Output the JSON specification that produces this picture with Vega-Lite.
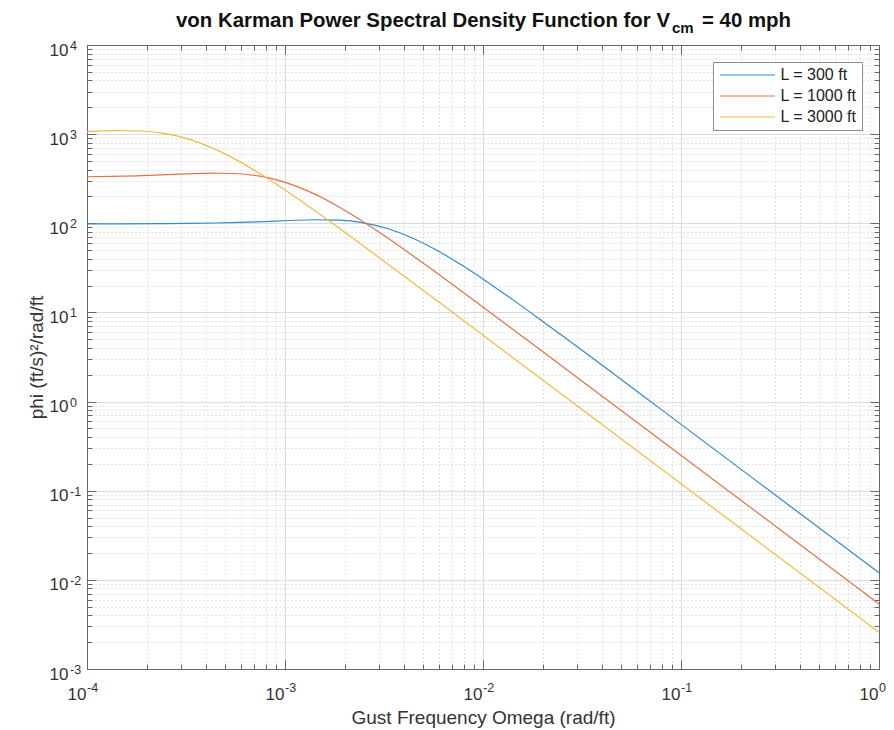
{
  "$schema": "https://vega.github.io/schema/vega-lite/v6.json",
  "width": 792,
  "height": 624,
  "autosize": {"type": "none"},
  "padding": {"left": 87, "top": 45, "right": 15, "bottom": 61},
  "background": "white",
  "config": {
    "view": {"stroke": null},
    "font": "Liberation Sans",
    "axis": {
      "labelFont": "Liberation Sans",
      "labelFontSize": 17,
      "labelColor": "#333333",
      "titleFont": "Liberation Sans",
      "titleFontSize": 19,
      "titleFontWeight": "normal",
      "titleColor": "#333333",
      "tickColor": "#666666",
      "tickWidth": 1,
      "domainColor": "#666666",
      "domainWidth": 1,
      "labelFlush": false,
      "labelOverlap": false
    }
  },
  "datasets": {
    "curves": [
      {"series": "L = 300 ft", "omega": 0.0001, "phi": 98.49},
      {"series": "L = 300 ft", "omega": 0.00014, "phi": 98.62},
      {"series": "L = 300 ft", "omega": 0.00024894, "phi": 99.15},
      {"series": "L = 300 ft", "omega": 0.00033197, "phi": 99.75},
      {"series": "L = 300 ft", "omega": 0.0004427, "phi": 100.73},
      {"series": "L = 300 ft", "omega": 0.00059034, "phi": 102.31},
      {"series": "L = 300 ft", "omega": 0.00078723, "phi": 104.61},
      {"series": "L = 300 ft", "omega": 0.0010498, "phi": 107.41},
      {"series": "L = 300 ft", "omega": 0.0013999, "phi": 109.56},
      {"series": "L = 300 ft", "omega": 0.0018669, "phi": 108.5},
      {"series": "L = 300 ft", "omega": 0.0024894, "phi": 101.2},
      {"series": "L = 300 ft", "omega": 0.0033197, "phi": 86.76},
      {"series": "L = 300 ft", "omega": 0.004427, "phi": 67.92},
      {"series": "L = 300 ft", "omega": 0.0059034, "phi": 49.15},
      {"series": "L = 300 ft", "omega": 0.0078723, "phi": 33.54},
      {"series": "L = 300 ft", "omega": 0.010498, "phi": 22.01},
      {"series": "L = 300 ft", "omega": 0.013999, "phi": 14.1},
      {"series": "L = 300 ft", "omega": 0.018669, "phi": 8.898},
      {"series": "L = 300 ft", "omega": 0.024894, "phi": 5.569},
      {"series": "L = 300 ft", "omega": 0.04427, "phi": 2.155},
      {"series": "L = 300 ft", "omega": 0.078723, "phi": 0.8282},
      {"series": "L = 300 ft", "omega": 0.24894, "phi": 0.1217},
      {"series": "L = 300 ft", "omega": 1, "phi": 0.012},
      {"series": "L = 1000 ft", "omega": 0.0001, "phi": 332.5},
      {"series": "L = 1000 ft", "omega": 0.0001328, "phi": 335.8},
      {"series": "L = 1000 ft", "omega": 0.00017709, "phi": 341.1},
      {"series": "L = 1000 ft", "omega": 0.00023616, "phi": 348.7},
      {"series": "L = 1000 ft", "omega": 0.00031492, "phi": 358.0},
      {"series": "L = 1000 ft", "omega": 0.00041995, "phi": 365.2},
      {"series": "L = 1000 ft", "omega": 0.00056002, "phi": 361.7},
      {"series": "L = 1000 ft", "omega": 0.00074683, "phi": 337.4},
      {"series": "L = 1000 ft", "omega": 0.00099586, "phi": 289.2},
      {"series": "L = 1000 ft", "omega": 0.001328, "phi": 226.4},
      {"series": "L = 1000 ft", "omega": 0.0017709, "phi": 163.8},
      {"series": "L = 1000 ft", "omega": 0.0023616, "phi": 111.8},
      {"series": "L = 1000 ft", "omega": 0.0031492, "phi": 73.37},
      {"series": "L = 1000 ft", "omega": 0.0041995, "phi": 46.99},
      {"series": "L = 1000 ft", "omega": 0.0056002, "phi": 29.66},
      {"series": "L = 1000 ft", "omega": 0.0074683, "phi": 18.57},
      {"series": "L = 1000 ft", "omega": 0.01328, "phi": 7.184},
      {"series": "L = 1000 ft", "omega": 0.023616, "phi": 2.761},
      {"series": "L = 1000 ft", "omega": 0.074683, "phi": 0.4058},
      {"series": "L = 1000 ft", "omega": 1, "phi": 0.005374},
      {"series": "L = 3000 ft", "omega": 0.0001, "phi": 1069},
      {"series": "L = 3000 ft", "omega": 0.00014, "phi": 1096},
      {"series": "L = 3000 ft", "omega": 0.00018669, "phi": 1085},
      {"series": "L = 3000 ft", "omega": 0.00024894, "phi": 1012},
      {"series": "L = 3000 ft", "omega": 0.00033197, "phi": 867.6},
      {"series": "L = 3000 ft", "omega": 0.0004427, "phi": 679.2},
      {"series": "L = 3000 ft", "omega": 0.00059034, "phi": 491.5},
      {"series": "L = 3000 ft", "omega": 0.00078723, "phi": 335.4},
      {"series": "L = 3000 ft", "omega": 0.0010498, "phi": 220.1},
      {"series": "L = 3000 ft", "omega": 0.0013999, "phi": 141.0},
      {"series": "L = 3000 ft", "omega": 0.0018669, "phi": 88.98},
      {"series": "L = 3000 ft", "omega": 0.0024894, "phi": 55.69},
      {"series": "L = 3000 ft", "omega": 0.004427, "phi": 21.55},
      {"series": "L = 3000 ft", "omega": 0.0078723, "phi": 8.282},
      {"series": "L = 3000 ft", "omega": 0.024894, "phi": 1.2172},
      {"series": "L = 3000 ft", "omega": 1, "phi": 0.002584}
    ],
    "xexp": [
      {"tick": 0.0001, "exp": "-4"},
      {"tick": 0.001, "exp": "-3"},
      {"tick": 0.01, "exp": "-2"},
      {"tick": 0.1, "exp": "-1"},
      {"tick": 1, "exp": "0"}
    ],
    "yexp": [
      {"tick": 0.001, "exp": "-3"},
      {"tick": 0.01, "exp": "-2"},
      {"tick": 0.1, "exp": "-1"},
      {"tick": 1, "exp": "0"},
      {"tick": 10, "exp": "1"},
      {"tick": 100, "exp": "2"},
      {"tick": 1000, "exp": "3"},
      {"tick": 10000, "exp": "4"}
    ]
  },
  "layer": [
    {
      "data": {"name": "curves"},
      "mark": {"type": "point", "opacity": 0},
      "encoding": {
        "x": {"field": "omega", "type": "quantitative",
          "scale": {"type": "log", "domain": [0.0001, 1], "nice": false},
          "axis": {"orient": "bottom", "labels": false, "domain": false, "grid": true, "gridColor": "#c8c8c8", "gridDash": [1, 3], "tickSize": -5, "title": null,
            "values": [0.0002, 0.0003, 0.0004, 0.0005, 0.0006, 0.0007, 0.0008, 0.0009, 0.002, 0.003, 0.004, 0.005, 0.006, 0.007, 0.008, 0.009, 0.02, 0.03, 0.04, 0.05, 0.06, 0.07, 0.08, 0.09, 0.2, 0.3, 0.4, 0.5, 0.6, 0.7, 0.8, 0.9]}},
        "y": {"field": "phi", "type": "quantitative",
          "scale": {"type": "log", "domain": [0.001, 10000], "nice": false},
          "axis": {"orient": "left", "labels": false, "domain": false, "grid": true, "gridColor": "#c8c8c8", "gridDash": [1, 3], "tickSize": -5, "title": null,
            "values": [0.002, 0.003, 0.004, 0.005, 0.006, 0.007, 0.008, 0.009, 0.02, 0.03, 0.04, 0.05, 0.06, 0.07, 0.08, 0.09, 0.2, 0.3, 0.4, 0.5, 0.6, 0.7, 0.8, 0.9, 2, 3, 4, 5, 6, 7, 8, 9, 20, 30, 40, 50, 60, 70, 80, 90, 200, 300, 400, 500, 600, 700, 800, 900, 2000, 3000, 4000, 5000, 6000, 7000, 8000, 9000]}}
      }
    },
    {
      "data": {"name": "curves"},
      "mark": {"type": "point", "opacity": 0},
      "encoding": {
        "x": {"field": "omega", "type": "quantitative",
          "scale": {"type": "log", "domain": [0.0001, 1], "nice": false},
          "axis": {"orient": "top", "labels": false, "domain": false, "grid": false, "tickSize": -5, "title": null,
            "values": [0.0002, 0.0003, 0.0004, 0.0005, 0.0006, 0.0007, 0.0008, 0.0009, 0.002, 0.003, 0.004, 0.005, 0.006, 0.007, 0.008, 0.009, 0.02, 0.03, 0.04, 0.05, 0.06, 0.07, 0.08, 0.09, 0.2, 0.3, 0.4, 0.5, 0.6, 0.7, 0.8, 0.9]}},
        "y": {"field": "phi", "type": "quantitative",
          "scale": {"type": "log", "domain": [0.001, 10000], "nice": false},
          "axis": {"orient": "right", "labels": false, "domain": false, "grid": false, "tickSize": -5, "title": null,
            "values": [0.002, 0.003, 0.004, 0.005, 0.006, 0.007, 0.008, 0.009, 0.02, 0.03, 0.04, 0.05, 0.06, 0.07, 0.08, 0.09, 0.2, 0.3, 0.4, 0.5, 0.6, 0.7, 0.8, 0.9, 2, 3, 4, 5, 6, 7, 8, 9, 20, 30, 40, 50, 60, 70, 80, 90, 200, 300, 400, 500, 600, 700, 800, 900, 2000, 3000, 4000, 5000, 6000, 7000, 8000, 9000]}}
      }
    },
    {
      "data": {"name": "curves"},
      "mark": {"type": "point", "opacity": 0},
      "encoding": {
        "x": {"field": "omega", "type": "quantitative",
          "scale": {"type": "log", "domain": [0.0001, 1], "nice": false},
          "axis": {"orient": "top", "labels": false, "domain": true, "grid": false, "tickSize": -9, "title": null,
            "values": [0.0001, 0.001, 0.01, 0.1, 1]}},
        "y": {"field": "phi", "type": "quantitative",
          "scale": {"type": "log", "domain": [0.001, 10000], "nice": false},
          "axis": {"orient": "right", "labels": false, "domain": true, "grid": false, "tickSize": -9, "title": null,
            "values": [0.001, 0.01, 0.1, 1, 10, 100, 1000, 10000]}}
      }
    },
    {
      "data": {"name": "curves"},
      "mark": {"type": "line", "strokeWidth": 1.2, "clip": true, "interpolate": "monotone"},
      "encoding": {
        "x": {"field": "omega", "type": "quantitative",
          "scale": {"type": "log", "domain": [0.0001, 1], "nice": false},
          "axis": {"orient": "bottom", "grid": true, "gridColor": "#dcdcdc", "tickSize": -9,
            "labelPadding": 39, "labelAlign": "right", "labelBaseline": "alphabetic", "labelOffset": -1,
            "title": "Gust Frequency Omega (rad/ft)", "titlePadding": 6,
            "values": [0.0001, 0.001, 0.01, 0.1, 1],
            "labelExpr": "'10'"}},
        "y": {"field": "phi", "type": "quantitative",
          "scale": {"type": "log", "domain": [0.001, 10000], "nice": false},
          "axis": {"orient": "left", "grid": true, "gridColor": "#dcdcdc", "tickSize": -9,
            "labelPadding": 28, "labelAlign": "right", "labelBaseline": "alphabetic", "labelOffset": 10,
            "title": "phi (ft/s)²/rad/ft", "titlePadding": 3,
            "values": [0.001, 0.01, 0.1, 1, 10, 100, 1000, 10000],
            "labelExpr": "'10'"}},
        "color": {"field": "series", "type": "nominal",
          "scale": {"domain": ["L = 300 ft", "L = 1000 ft", "L = 3000 ft"], "range": ["#2f8ad0", "#df7348", "#efbb42"]},
          "legend": {"orient": "top-right", "offset": 17, "title": null, "padding": 5,
            "fillColor": "white", "strokeColor": "#8c8c8c",
            "symbolType": "M-13.75,0H13.75", "symbolSize": 16, "symbolStrokeWidth": 1.2,
            "symbolOffset": 21.5, "labelOffset": 25, "labelFontSize": 16, "labelFont": "Liberation Sans",
            "labelExpr": "datum.label + '\u00a0\u00a0\u00a0'",
            "labelColor": "#222222", "rowPadding": 5}}
      }
    },
    {
      "data": {"name": "xexp"},
      "mark": {"type": "text", "align": "left", "baseline": "alphabetic", "dy": 23, "dx": 0, "font": "Liberation Sans", "fontSize": 12.5, "color": "#333333"},
      "encoding": {
        "x": {"field": "tick", "type": "quantitative", "axis": null},
        "y": {"datum": 0.001, "type": "quantitative", "axis": null},
        "text": {"field": "exp", "type": "nominal"}
      }
    },
    {
      "data": {"name": "yexp"},
      "mark": {"type": "text", "align": "left", "baseline": "alphabetic", "dy": 5, "dx": -17, "font": "Liberation Sans", "fontSize": 12.5, "color": "#333333"},
      "encoding": {
        "x": {"datum": 0.0001, "type": "quantitative", "axis": null},
        "y": {"field": "tick", "type": "quantitative", "axis": null},
        "text": {"field": "exp", "type": "nominal"}
      }
    },
    {
      "data": {"values": [{}]},
      "mark": {"type": "text", "text": "von Karman Power Spectral Density Function for V", "align": "right", "baseline": "alphabetic", "dy": -18, "font": "Liberation Sans", "fontSize": 20.4, "fontWeight": "bold", "color": "#111111"},
      "encoding": {
        "x": {"datum": 0.08801, "type": "quantitative", "axis": null},
        "y": {"datum": 10000, "type": "quantitative", "axis": null}
      }
    },
    {
      "data": {"values": [{}]},
      "mark": {"type": "text", "text": "cm", "align": "left", "baseline": "alphabetic", "dy": -12, "font": "Liberation Sans", "fontSize": 15, "fontWeight": "bold", "color": "#111111"},
      "encoding": {
        "x": {"datum": 0.09006, "type": "quantitative", "axis": null},
        "y": {"datum": 10000, "type": "quantitative", "axis": null}
      }
    },
    {
      "data": {"values": [{}]},
      "mark": {"type": "text", "text": "= 40 mph", "align": "left", "baseline": "alphabetic", "dy": -18, "font": "Liberation Sans", "fontSize": 20.4, "fontWeight": "bold", "color": "#111111"},
      "encoding": {
        "x": {"datum": 0.12768, "type": "quantitative", "axis": null},
        "y": {"datum": 10000, "type": "quantitative", "axis": null}
      }
    }
  ],
  "resolve": {"axis": {"x": "independent", "y": "independent"}}
}
